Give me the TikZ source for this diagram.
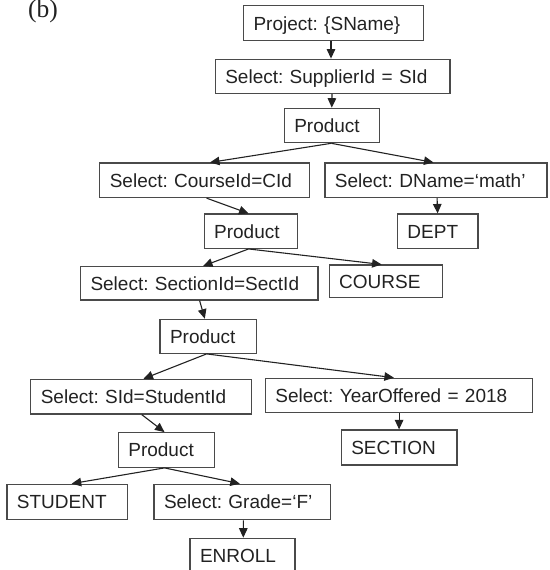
\documentclass[tikz,border=0pt]{standalone}
\usepackage{fontspec}
\setmainfont{Liberation Sans}
\newfontfamily\labelserif{Liberation Serif}
\usetikzlibrary{arrows.meta}
\definecolor{boxline}{HTML}{4A4A4A}
\definecolor{ink}{HTML}{222222}
\begin{document}
\begin{tikzpicture}[x=1pt,y=-1pt,
  opbox/.style={draw=boxline, line width=1.2pt, text=ink, inner xsep=10pt, inner ysep=0pt,
    align=left, text height=13.6pt, text depth=0pt,
    font=\fontsize{19}{21}\selectfont\frenchspacing},
  conn/.style={draw=ink, line width=1.1pt, -{Triangle[length=9.5pt,width=8.5pt]}}]
\useasboundingbox (0,0) rectangle (549,570);
\clip (0,0) rectangle (549,570);
\node[anchor=base west, text=ink, inner sep=0pt, font=\labelserif\fontsize{25.5}{28}\selectfont] (lab) at (28,17) {(b)};
% nodes: text width = W - 20
\node[opbox, minimum height=35pt, text width=160pt] (proj) at (333.5,23.3) {Project: \{SName\}};
\node[opbox, minimum height=34pt, text width=214.6pt] (selsup) at (332.6,76.2) {Select: SupplierId = SId};
\node[opbox, minimum height=34.4pt, text width=75pt] (prod1) at (331.8,125.5) {Product};
\node[opbox, minimum height=34.5pt, text width=190pt] (selcid) at (204.8,180.3) {Select: CourseId=CId};
\node[opbox, minimum height=34.5pt, text width=202pt] (seldn) at (435.9,180.3) {Select: DName=‘math’};
\node[opbox, minimum height=34.3pt, text width=73.5pt] (prod2) at (250.9,231.2) {Product};
\node[opbox, minimum height=34.3pt, text width=60.5pt] (dept) at (437.7,231.2) {DEPT};
\node[opbox, minimum height=33.3pt, text width=217.4pt] (selsec) at (199.2,283.3) {Select: SectionId=SectId};
\node[opbox, minimum height=32.3pt, text width=93.1pt] (course) at (385.7,281.2) {COURSE};
\node[opbox, minimum height=34pt, text width=76.3pt] (prod3) at (208.2,336.3) {Product};
\node[opbox, minimum height=34.7pt, text width=200.6pt] (selsid) at (141.1,396.7) {Select: SId=StudentId};
\node[opbox, minimum height=34.4pt, text width=246.8pt] (selyear) at (398.8,395.5) {Select: YearOffered = 2018};
\node[opbox, minimum height=34.6pt, text width=76.3pt] (prod4) at (166.5,450) {Product};
\node[opbox, minimum height=35pt, text width=95.6pt] (section) at (399.1,447.5) {SECTION};
\node[opbox, minimum height=35.5pt, text width=100.6pt] (student) at (67.2,502) {STUDENT};
\node[opbox, minimum height=35.5pt, text width=156.8pt] (grade) at (242.4,502) {Select: Grade=‘F’};
\node[opbox, minimum height=35pt, text width=85pt] (enroll) at (242.5,555.8) {ENROLL};
% connectors
\draw[conn] ([xshift=-2.5pt]proj.south) -- ([xshift=-1.6pt]selsup.north);
\draw[conn] ([xshift=-0.6pt]selsup.south) -- ([xshift=0pt]prod1.north);
\draw[conn] ([xshift=-0.5pt]prod1.south) -- ([xshift=5.2pt]selcid.north);
\draw[conn] ([xshift=-0.5pt]prod1.south) -- ([xshift=-2.4pt]seldn.north);
\draw[conn] ([xshift=1.8pt]selcid.south) -- ([xshift=-2.3pt]prod2.north);
\draw[conn] ([xshift=1.2pt]seldn.south) -- ([xshift=-0.1pt]dept.north);
\draw[conn] ([xshift=-2.3pt]prod2.south) -- ([xshift=3.8pt]selsec.north);
\draw[conn] ([xshift=-2.3pt]prod2.south) -- ([xshift=-4.1pt]course.north);
\draw[conn] ([xshift=0.4pt]selsec.south) -- ([xshift=-3.4pt]prod3.north);
\draw[conn] ([xshift=-1.6pt]prod3.south) -- ([xshift=2.4pt]selsid.north);
\draw[conn] ([xshift=-1.6pt]prod3.south) -- ([xshift=-4.9pt]selyear.north);
\draw[conn] ([xshift=0.3pt]selyear.south) -- ([xshift=0pt]section.north);
\draw[conn] ([xshift=0.7pt]selsid.south) -- ([xshift=-2pt]prod4.north);
\draw[conn] ([xshift=-2pt]prod4.south) -- ([xshift=4.5pt]student.north);
\draw[conn] ([xshift=-2pt]prod4.south) -- ([xshift=-2.6pt]grade.north);
\draw[conn] ([xshift=0.9pt]grade.south) -- ([xshift=0.8pt]enroll.north);
\end{tikzpicture}
\end{document}
